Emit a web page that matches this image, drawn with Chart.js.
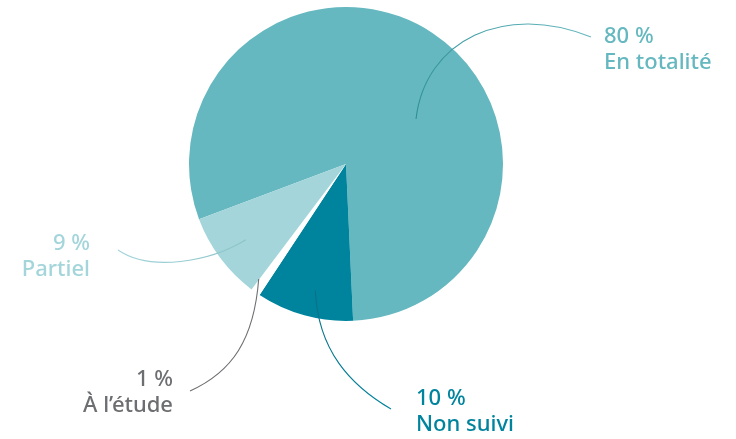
<!DOCTYPE html>
<html><head><meta charset="utf-8">
<script src="https://cdn.jsdelivr.net/npm/chart.js@4"></script>
<style>html,body{margin:0;padding:0;background:#fff;}#wrap{width:736px;height:439px;position:relative;}</style>
</head><body><div id="wrap"><canvas id="c" width="736" height="439"></canvas></div>
<script>
const categories = ["En totalité", "Non suivi", "À l’étude", "Partiel"];
const values = [80, 10, 1, 9];
const valueLabels = ["80 %", "10 %", "1 %", "9 %"];
const sliceColors = ["#65b8bf", "#00849e", "#ffffff", "#a3d5da"];
const textColors = ["#65b8bf", "#00849e", "#6d6e71", "#a3d5da"];

// annotation layout (leader lines and label positions)
const leaders = [
  {t:0.583, f:0.53, c1:[425,40], c2:[505,2], end:[591,37], lineFrom:"#2f8e95", lineTo:"#65b8bf", tx:604, ty:43, align:"left"},
  {t:0.45, f:0.83, c1:[318,350], c2:[350,385], end:[391,409], lineFrom:"#0a6f84", lineTo:"#00849e", tx:416, ty:405, align:"left"},
  {t:1.05, f:0.92, c1:[254,340], c2:[232,372], end:[190,391], lineFrom:"#6d6e71", lineTo:"#6d6e71", tx:173, ty:386, align:"right"},
  {t:0.49, f:0.80, c1:[210,262], c2:[150,272], end:[118,250], lineFrom:"#8cc3c8", lineTo:"#a3d5da", tx:90, ty:250, align:"right"}
];
const FONT = '500 22px "Noto Sans", sans-serif';

const labelPlugin = {
  id: 'labels',
  afterDatasetsDraw(chart) {
    const ctx = chart.ctx;
    const meta = chart.getDatasetMeta(0);
    meta.data.forEach((arc, i) => {
      const L = leaders[i];
      const a = arc.startAngle + L.t * (arc.endAngle - arc.startAngle);
      const r = arc.outerRadius * L.f;
      const x0 = arc.x + Math.cos(a) * r, y0 = arc.y + Math.sin(a) * r;
      ctx.save();
      const g = ctx.createLinearGradient(x0, y0, L.end[0], L.end[1]);
      g.addColorStop(0, L.lineFrom); g.addColorStop(1, L.lineTo);
      ctx.strokeStyle = g; ctx.lineWidth = 1.1;
      ctx.beginPath(); ctx.moveTo(x0, y0);
      ctx.bezierCurveTo(L.c1[0], L.c1[1], L.c2[0], L.c2[1], L.end[0], L.end[1]);
      ctx.stroke();
      ctx.fillStyle = textColors[i]; ctx.font = FONT; ctx.textAlign = L.align; ctx.textBaseline = 'alphabetic';
      ctx.fillText(valueLabels[i], L.tx, L.ty);
      ctx.fillText(categories[i], L.tx, L.ty + 26);
      ctx.restore();
    });
  }
};

new Chart(document.getElementById('c'), {
  type: 'pie',
  data: { labels: categories, datasets: [{ data: values, backgroundColor: sliceColors, borderWidth: 0 }] },
  options: {
    responsive: false, animation: false, rotation: -110.6,
    layout: { padding: { left: 189, right: 233, top: 7, bottom: 118 } },
    plugins: { legend: { display: false }, tooltip: { enabled: false } }
  },
  plugins: [labelPlugin]
});
</script></body></html>
